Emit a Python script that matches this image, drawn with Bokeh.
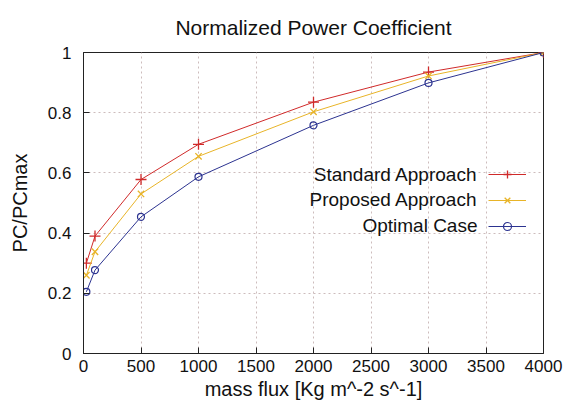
from bokeh.plotting import figure
from bokeh.models import FixedTicker, Legend, LegendItem, Label
from bokeh.embed import file_html
from bokeh.resources import INLINE

# ---- data ----
mass_flux = [25, 100, 500, 1000, 2000, 3000, 4000]
standard = [0.30, 0.39, 0.578, 0.695, 0.835, 0.935, 1.0]
proposed = [0.26, 0.338, 0.53, 0.655, 0.803, 0.922, 1.0]
optimal = [0.205, 0.277, 0.454, 0.587, 0.758, 0.899, 1.0]

x_ticks = [0, 500, 1000, 1500, 2000, 2500, 3000, 3500, 4000]
y_ticks = [0, 0.2, 0.4, 0.6, 0.8, 1.0]
y_tick_labels = ["0", "0.2", "0.4", "0.6", "0.8", "1"]
series_names = ["Standard Approach", "Proposed Approach", "Optimal Case"]

FONT = "Liberation Sans"
RED = "#d02a2a"
YEL = "#e8b428"
BLU = "#2c3390"
GRID = "#cdbcbc"

p = figure(width=563, height=403, x_range=(0, 4000), y_range=(0, 1),
           output_backend="svg", toolbar_location=None,
           min_border_left=83, min_border_right=20,
           min_border_top=52, min_border_bottom=50)

p.title.text = "Normalized Power Coefficient"
p.title.align = "center"
p.title.vertical_align = "top"
p.title.text_font = FONT
p.title.text_font_size = "21px"
p.title.text_font_style = "normal"
p.title.text_color = "#111111"
p.title.standoff = 24

p.outline_line_color = "#222222"
p.outline_line_width = 1

for ax in (p.xaxis[0], p.yaxis[0]):
    ax.major_label_text_font = FONT
    ax.major_label_text_font_size = "17px"
    ax.major_label_text_color = "#111111"
    ax.axis_label_text_font = FONT
    ax.axis_label_text_font_size = "20px"
    ax.axis_label_text_font_style = "normal"
    ax.axis_label_text_color = "#111111"
    ax.major_tick_in = 6
    ax.major_tick_out = 0
    ax.minor_tick_line_color = None
    ax.axis_line_color = "#222222"
    ax.major_tick_line_color = "#222222"

p.xaxis.ticker = FixedTicker(ticks=x_ticks)
p.yaxis.ticker = FixedTicker(ticks=y_ticks)
p.yaxis.major_label_overrides = {t: s for t, s in zip(y_ticks, y_tick_labels)}
p.xaxis.axis_label = "mass flux [Kg m^-2 s^-1]"
p.yaxis.axis_label = "PC/PCmax"
p.xaxis.major_label_standoff = 6
p.xaxis.axis_label_standoff = 3
p.yaxis.major_label_standoff = 12
p.yaxis.axis_label_standoff = 14

p.xgrid.ticker = FixedTicker(ticks=x_ticks)
p.ygrid.ticker = FixedTicker(ticks=y_ticks)
for g in (p.xgrid[0], p.ygrid[0]):
    g.grid_line_color = GRID
    g.grid_line_dash = "2 3"
    g.grid_line_width = 1

l1 = p.line(mass_flux, standard, line_color=RED, line_width=1)
m1 = p.scatter(mass_flux, standard, marker="cross", size=11, line_color=RED, line_width=1.3)
l2 = p.line(mass_flux, proposed, line_color=YEL, line_width=1)
m2 = p.scatter(mass_flux, proposed, marker="x", size=9, line_color=YEL, line_width=1.3)
l3 = p.line(mass_flux, optimal, line_color=BLU, line_width=1)
m3 = p.scatter(mass_flux, optimal, marker="circle", size=7, line_color=BLU,
               fill_color=None, line_width=1.2)

legend = Legend(items=[LegendItem(label=" ", renderers=[l1, m1]),
                       LegendItem(label=" ", renderers=[l2, m2]),
                       LegendItem(label=" ", renderers=[l3, m3])],
                location=(405, 117.5), orientation="vertical",
                padding=0, margin=0, spacing=6, glyph_width=38, glyph_height=20,
                label_height=20, label_standoff=0, label_width=1,
                label_text_font_size="1px",
                border_line_color=None, background_fill_alpha=0)
p.add_layout(legend, "center")

row_y = [179.5, 154, 128]
for name, yy in zip(series_names, row_y):
    p.add_layout(Label(x=394, y=yy, x_units="screen", y_units="screen",
                       text=name, text_align="right", text_baseline="middle",
                       text_font=FONT, text_font_size="19px", text_color="#111111"))

open("out.html", "w").write(file_html(p, INLINE))
